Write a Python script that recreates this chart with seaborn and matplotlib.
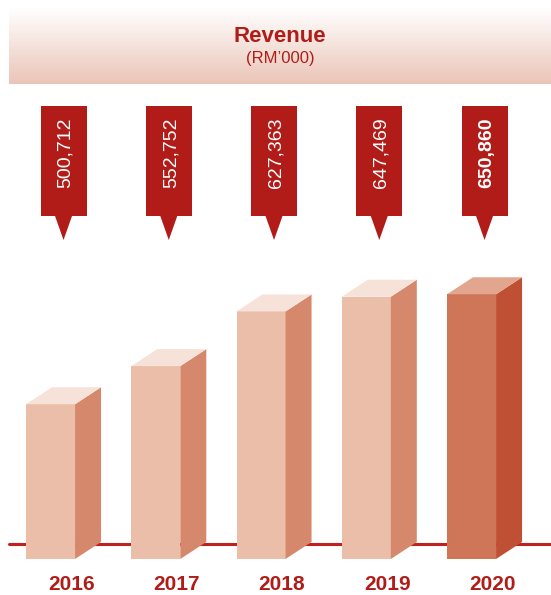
import numpy as np
import pandas as pd
import seaborn as sns
import matplotlib
matplotlib.use("Agg")
import matplotlib.pyplot as plt
import matplotlib.transforms as mtransforms
from matplotlib import font_manager
from matplotlib.patches import Polygon, Rectangle
from matplotlib.lines import Line2D
from matplotlib.colors import LinearSegmentedColormap

# data
years = ["2016", "2017", "2018", "2019", "2020"]
revenue = [500712, 552752, 627363, 647469, 650860]
title = "Revenue"
subtitle = "(RM\u2019000)"

# colours
front_colors = ["#EBBEA9"] * 4 + ["#CE7657"]
side_colors = ["#D6886C"] * 4 + ["#C05034"]
top_colors = ["#F6E2D8"] * 4 + ["#E2A68F"]
RED = "#B21C18"

installed = {f.name for f in font_manager.fontManager.ttflist}
narrow = "Liberation Sans Narrow" if "Liberation Sans Narrow" in installed else "Liberation Sans"

sns.set_theme(style="white")
plt.rcParams["font.family"] = [narrow, "DejaVu Sans"]

W, H = 551, 595
fig = plt.figure(figsize=(W / 100, H / 100), dpi=100)
ident = mtransforms.IdentityTransform()


def fy(py):
    return 1 - py / H


# header band (gradient white -> pink)
band = fig.add_axes([9 / W, fy(84), 1 - 9 / W, (84 - 8) / H])
grad = np.linspace(0, 1, 256).reshape(-1, 1)
cmap = LinearSegmentedColormap.from_list("band", ["#FFFFFF", "#EAC5B7"])
band.imshow(grad, aspect="auto", cmap=cmap, extent=[0, 1, 0, 1], origin="upper")
band.axis("off")

fig.text(280 / W, fy(42), title, ha="center", va="baseline",
         fontsize=16, fontweight="bold", color=RED)
fig.text(280 / W, fy(63), subtitle, ha="center", va="baseline",
         fontsize=12, color=RED)

# floor line behind the bars
fig.add_artist(Line2D([9 / W, 1], [fy(544), fy(544)], color="#C0211F", lw=2.2, zorder=-1))

# main bar axes
y_lo = 289400
px_per_unit = 0.0007324
ax = fig.add_axes([0, fy(559), 1, (559 - 250) / H])
df = pd.DataFrame({"year": years, "revenue": revenue})
sns.barplot(data=df, x="year", y="revenue", hue="year", palette=front_colors,
            legend=False, width=0.466, saturation=1, linewidth=0, ax=ax)
ax.set_xlim(-0.48, 4.755)
ax.set_ylim(y_lo, y_lo + 309 / px_per_unit)
ax.patch.set_visible(False)
for s in ax.spines.values():
    s.set_visible(False)
ax.set_xticks([])
ax.set_yticks([])
ax.set_xlabel("")
ax.set_ylabel("")

dx, dy = 26, 17
bars = sorted(ax.patches, key=lambda p: p.get_x())
for i, bar in enumerate(bars):
    x0 = bar.get_x()
    x1 = x0 + bar.get_width()
    xl, yb = ax.transData.transform((x0, y_lo))
    xr, yt = ax.transData.transform((x1, bar.get_height()))
    side = [(xr, yb), (xr + dx, yb + dy), (xr + dx, yt + dy), (xr, yt)]
    top = [(xl, yt), (xl + dx, yt + dy), (xr + dx, yt + dy), (xr, yt)]
    ax.add_patch(Polygon(side, closed=True, fc=side_colors[i], ec="none",
                         transform=ident, clip_on=False))
    ax.add_patch(Polygon(top, closed=True, fc=top_colors[i], ec="none",
                         transform=ident, clip_on=False))

    # callout box with pointer
    cx = (xl + xr) / 2 + dx / 2
    fig.add_artist(Rectangle((cx - 23, H - 216), 46, 110, fc=RED, ec="none", transform=ident))
    fig.add_artist(Polygon([(cx - 8.5, H - 216), (cx + 8.5, H - 216), (cx, H - 240)],
                           closed=True, fc=RED, ec="none", transform=ident))
    last = i == len(bars) - 1
    fig.text(cx + 2, H - 117, f"{revenue[i]:,}", rotation=90, ha="center", va="top",
             fontsize=14, color="white", fontweight="bold" if last else "normal",
             transform=ident)

    # year label
    fig.text((xl + xr) / 2 + 21, H - 590, years[i], ha="center", va="baseline",
             fontsize=15, fontweight="bold", color=RED, transform=ident)

fig.savefig("out.png", dpi=100)
